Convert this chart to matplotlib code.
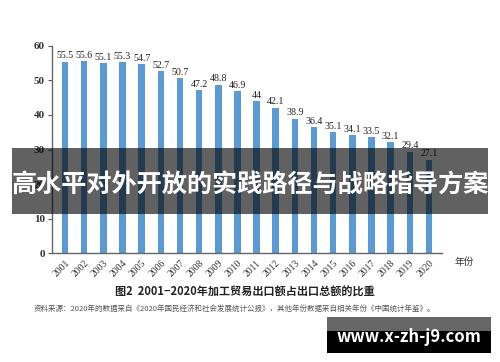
import matplotlib
matplotlib.use("Agg")

import matplotlib.pyplot as plt
from matplotlib.patches import Rectangle
import numpy as np

years = [str(y) for y in range(2001, 2021)]
share = [55.5, 55.6, 55.1, 55.3, 54.7, 52.7, 50.7, 47.2, 48.8, 46.9,
         44, 42.1, 38.9, 36.4, 35.1, 34.1, 33.5, 32.1, 29.4, 27.1]
y_ticks = [0, 10, 20, 30, 40, 50, 60]

SERIF = ["Liberation Serif", "DejaVu Serif"]
CJK = ["Noto Sans CJK SC", "DejaVu Sans"]
BAR = "#5b9bd5"
INK = "#333333"

fig = plt.figure(figsize=(5.0, 3.62), dpi=100)
fig.patch.set_facecolor("white")
ax = fig.add_axes([0.104, 0.301, 0.780, 0.572])

x = np.arange(len(years))
ax.bar(x, share, width=0.34, color=BAR, edgecolor="none")
for xi, v in zip(x, share):
    ax.text(xi, v + 0.4, f"{v:g}", ha="center", va="bottom",
            fontsize=7.2, family=SERIF, color="#222222")

ax.set_xlim(-0.68, 19.68)
ax.set_ylim(0, 60)
ax.set_yticks(y_ticks)
ax.set_yticklabels([str(t) for t in y_ticks], family=SERIF, fontsize=8,
                   fontweight="bold", color=INK)
ax.set_xticks(x)
ax.set_xticklabels(years, rotation=45, ha="right", rotation_mode="anchor",
                   family=SERIF, fontsize=7, color=INK)
ax.tick_params(axis="y", direction="out", length=3, color="#555555", pad=2)
ax.tick_params(axis="x", length=0, pad=4)
for s in ("top", "right"):
    ax.spines[s].set_visible(False)
for s in ("left", "bottom"):
    ax.spines[s].set_color("#666666")
    ax.spines[s].set_linewidth(1.0)

fig.text(0.910, 0.276, "年份", family=CJK, fontsize=7, color=INK,
         ha="left", va="center")

fig.text(0.49, 0.193, "图2  2001−2020年加工贸易出口额占出口总额的比重",
         family=CJK, fontsize=8, fontweight="bold", color="#222222",
         ha="center", va="center")
fig.text(0.468, 0.147,
         "资料来源：2020年的数据来自《2020年国民经济和社会发展统计公报》，其他年份数据来自相关年份《中国统计年鉴》。",
         family=CJK, fontsize=5.4, color="#555555", ha="center", va="center")

# dark title banner
fig.patches.append(Rectangle((12 / 500, 1 - 214 / 362), 476 / 500, 66 / 362,
                             transform=fig.transFigure, facecolor="black",
                             alpha=0.62, edgecolor="none", zorder=5))
fig.text(0.5, 0.489, "高水平对外开放的实践路径与战略指导方案",
         family=CJK, fontsize=18.1, fontweight="bold", color="white",
         ha="center", va="center", zorder=6)

# watermark box
fig.patches.append(Rectangle((327 / 500, 1 - 331 / 362), 164 / 500, 14 / 362,
                             transform=fig.transFigure, facecolor="#666666",
                             edgecolor="none", zorder=5))
fig.patches.append(Rectangle((327 / 500, 1 - 353 / 362), 164 / 500, 22 / 362,
                             transform=fig.transFigure, facecolor="black",
                             edgecolor="none", zorder=5))
fig.text(409 / 500, 1 - 337 / 362, "www.x-zh-j9.com", family=CJK,
         fontsize=12, fontweight="bold", color="white",
         ha="center", va="center", zorder=6)

fig.savefig("out.png", dpi=100)
